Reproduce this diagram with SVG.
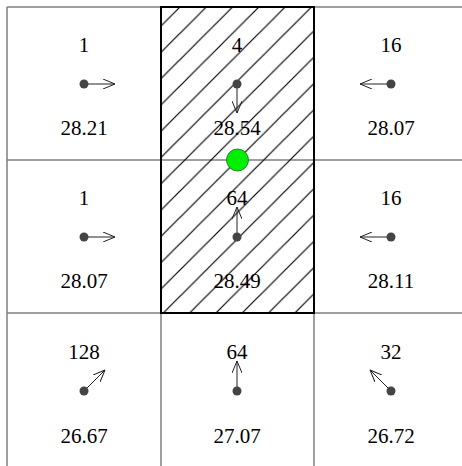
<svg xmlns="http://www.w3.org/2000/svg" width="462" height="466" viewBox="0 0 462 466">
<style>
.grid{stroke:#808080;stroke-width:1.5;fill:none}
.lbl{font-family:"Liberation Serif","Times New Roman",serif;font-size:21px;fill:#000;text-anchor:middle}
.dot{fill:#444}
.arr{stroke:#222;stroke-width:1;fill:none;marker-end:url(#head)}
</style>
<defs>
<marker id="head" viewBox="0 0 12 10" refX="12" refY="5" markerWidth="12" markerHeight="10" markerUnits="userSpaceOnUse" orient="auto">
<path d="M0,0 L12,5 L0,10" fill="none" stroke="#222" stroke-width="1"/>
</marker>
<pattern id="hatch" patternUnits="userSpaceOnUse" x="180" y="7" width="26.3" height="26.3">
<path d="M-1,27.3 L27.3,-1 M-14,14 L14,-14 M12.3,40.3 L40.3,12.3" stroke="#000" stroke-width="1.2"/>
</pattern>
</defs>
<g id="grid">
<line class="grid" x1="7" y1="7" x2="462" y2="7"/>
<line class="grid" x1="7" y1="160" x2="462" y2="160"/>
<line class="grid" x1="7" y1="313" x2="462" y2="313"/>
<line class="grid" x1="7" y1="7" x2="7" y2="466"/>
<line class="grid" x1="161" y1="7" x2="161" y2="466"/>
<line class="grid" x1="314" y1="7" x2="314" y2="466"/>
</g>
<g id="selected">
<rect x="161" y="7" width="153" height="306" fill="url(#hatch)" stroke="#000" stroke-width="2"/>
</g>
<g id="connectors">
<line class="arr" x1="84" y1="84" x2="115" y2="84"/>
<line class="arr" x1="237" y1="84" x2="237" y2="113"/>
<line class="arr" x1="391" y1="84" x2="360" y2="84"/>
<line class="arr" x1="84" y1="237" x2="115" y2="237"/>
<line class="arr" x1="237" y1="237" x2="237" y2="207"/>
<line class="arr" x1="391" y1="237" x2="360" y2="237"/>
<line class="arr" x1="84" y1="391" x2="105" y2="370"/>
<line class="arr" x1="237" y1="391" x2="237" y2="361"/>
<line class="arr" x1="391" y1="391" x2="370" y2="370"/>
</g>
<g id="cell-0-0"><text class="lbl" x="84" y="52">1</text><circle class="dot" cx="84" cy="84" r="4.5"/><text class="lbl" x="84" y="135">28.21</text></g>
<g id="cell-0-1"><text class="lbl" x="237" y="52">4</text><circle class="dot" cx="237" cy="84" r="4.5"/><text class="lbl" x="237" y="135">28.54</text></g>
<g id="cell-0-2"><text class="lbl" x="391" y="52">16</text><circle class="dot" cx="391" cy="84" r="4.5"/><text class="lbl" x="391" y="135">28.07</text></g>
<g id="cell-1-0"><text class="lbl" x="84" y="205">1</text><circle class="dot" cx="84" cy="237" r="4.5"/><text class="lbl" x="84" y="288">28.07</text></g>
<g id="cell-1-1"><text class="lbl" x="237" y="205">64</text><circle class="dot" cx="237" cy="237" r="4.5"/><text class="lbl" x="237" y="288">28.49</text></g>
<g id="cell-1-2"><text class="lbl" x="391" y="205">16</text><circle class="dot" cx="391" cy="237" r="4.5"/><text class="lbl" x="391" y="288">28.11</text></g>
<g id="cell-2-0"><text class="lbl" x="84" y="359">128</text><circle class="dot" cx="84" cy="391" r="4.5"/><text class="lbl" x="84" y="443">26.67</text></g>
<g id="cell-2-1"><text class="lbl" x="237" y="359">64</text><circle class="dot" cx="237" cy="391" r="4.5"/><text class="lbl" x="237" y="443">27.07</text></g>
<g id="cell-2-2"><text class="lbl" x="391" y="359">32</text><circle class="dot" cx="391" cy="391" r="4.5"/><text class="lbl" x="391" y="443">26.72</text></g>
<g id="marker-point"><circle cx="237.5" cy="160" r="11" fill="#00ee00" stroke="#226622" stroke-width="0.8"/></g>
</svg>
